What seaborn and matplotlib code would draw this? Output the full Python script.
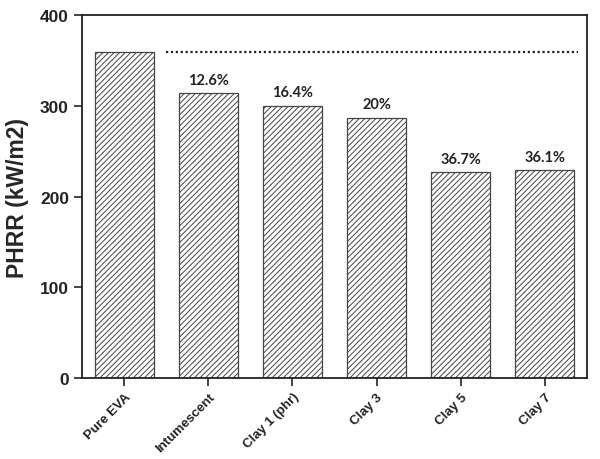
import matplotlib
matplotlib.use("Agg")
import matplotlib.pyplot as plt
import seaborn as sns
import pandas as pd

categories = ["Pure EVA", "Intumescent", "Clay 1 (phr)", "Clay 3", "Clay 5", "Clay 7"]
phrr = [359, 314, 300, 287, 227, 229]
reductions = ["", "12.6%", "16.4%", "20%", "36.7%", "36.1%"]
yticks = [0, 100, 200, 300, 400]

sns.set_style("ticks")
plt.rcParams["font.family"] = ["Liberation Sans", "DejaVu Sans"]
plt.rcParams["hatch.linewidth"] = 0.7
plt.rcParams["hatch.color"] = "#555555"

df = pd.DataFrame({"cat": categories, "phrr": phrr})

fig = plt.figure(figsize=(6, 4.6), dpi=100)
ax = fig.add_axes([0.137, 0.176, 0.841, 0.789])
sns.barplot(data=df, x="cat", y="phrr", ax=ax, color="white", width=0.7,
            edgecolor="#444444", linewidth=0.9, saturation=1)
for p in ax.patches:
    p.set_hatch("//////")
    p.set_facecolor("white")

ref = phrr[0]
ax.hlines(ref, 0.5, 5.4, colors="#222222", linestyles=(0, (1, 1.2)), linewidth=1.6)

for i, (v, t) in enumerate(zip(phrr, reductions)):
    if t:
        ax.text(i, v + 7, t, ha="center", va="bottom", fontsize=10.5,
                fontweight="bold", family=["Lato", "DejaVu Sans"], color="#222222")

ax.set_xlim(-0.5, 5.5)
ax.set_ylim(0, 400)
ax.set_yticks(yticks)
ax.set_yticklabels([str(t) for t in yticks], fontsize=12.5, fontweight="bold")
ax.set_xticks(range(len(categories)))
ax.set_xticklabels(categories, rotation=45, ha="right", rotation_mode="anchor",
                   fontsize=9.5, fontweight="bold")
ax.set_xlabel("")
ax.set_ylabel("PHRR (kW/m2)", fontsize=16.5, fontweight="bold", labelpad=8)
for s in ax.spines.values():
    s.set_visible(True)
    s.set_linewidth(1.3)
    s.set_color("#222222")
ax.tick_params(axis="both", direction="out", length=6, width=1.2, colors="#222222")
ax.tick_params(axis="x", pad=3)

fig.savefig("out.png", dpi=100)
